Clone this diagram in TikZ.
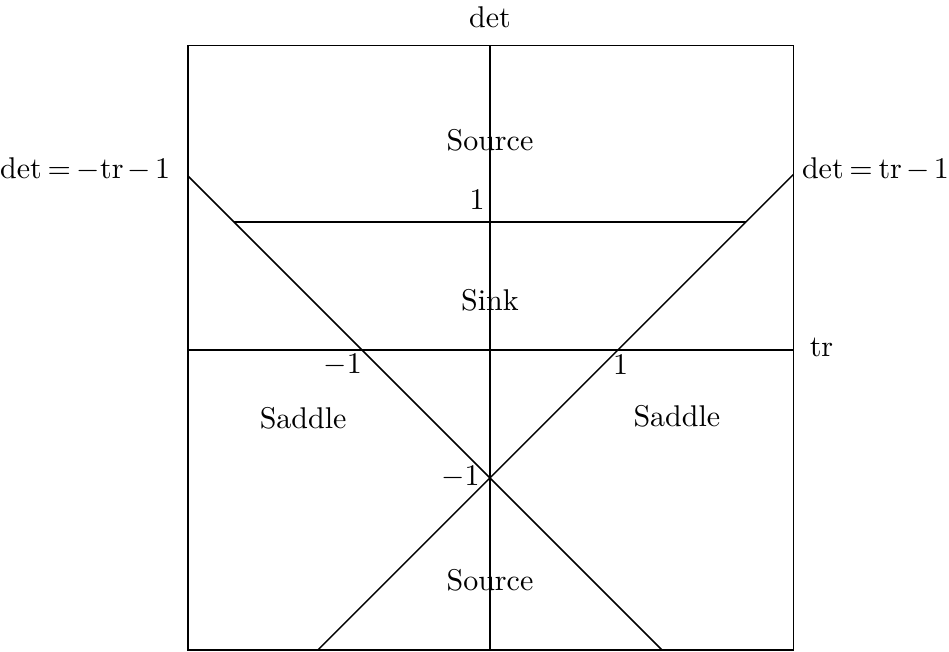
\documentclass[tikz,border=0pt]{standalone}
\usepackage{amsmath}
\usepackage{tikz}
\usetikzlibrary{positioning}
\tikzset{
  frame line/.style={draw=black, line width=0.5pt},
  boundary line/.style={draw=black, line width=0.5pt},
  region label/.style={font=\normalsize, inner sep=1pt},
  tick label/.style={font=\normalsize, inner sep=1pt},
  axis label/.style={font=\normalsize, inner sep=1pt},
  eq label/.style={font=\normalsize, inner sep=1pt,
    execute at begin node={\thickmuskip=3.5mu\medmuskip=2.5mu}}
}

\begin{document}
\begin{tikzpicture}[x=1.5cm, y=1.5cm]
  \useasboundingbox (-3.828,-2.352) rectangle (3.586,2.734);

  % frame and axes
  \draw[frame line] (-2.36,-2.345) rectangle (2.37,2.38);
  \coordinate (trl) at (-2.36,0);
  \coordinate (trr) at (2.37,0);
  \coordinate (detb) at (0,-2.345);
  \coordinate (dett) at (0,2.38);
  \draw[frame line] (trl) -- (trr);
  \draw[frame line] (detb) -- (dett);

  % det = 1
  \coordinate (d1l) at (-2,1);
  \coordinate (d1r) at (2,1);
  \draw[boundary line] (d1l) -- (d1r);

  % det = -tr - 1 and det = tr - 1
  \coordinate (ml) at (-2.36,1.36);
  \coordinate (mb) at (1.345,-2.345);
  \coordinate (pr) at (2.37,1.37);
  \coordinate (pb) at (-1.345,-2.345);
  \coordinate (cross) at (0,-1);
  \draw[boundary line] (ml) -- (cross) -- (mb);
  \draw[boundary line] (pr) -- (cross) -- (pb);

  % labels
  \node[axis label] (detlab) at (0,2.60) {$\mathrm{det}$};
  \node[axis label] (trlab) at (2.59,0.02) {$\mathrm{tr}$};
  \node[eq label, anchor=east] (mlab) at (-2.47,1.41)
    {$\mathrm{det}=-\mathrm{tr}-1$};
  \node[eq label, anchor=west] (plab) at (2.41,1.41)
    {$\mathrm{det}=\mathrm{tr}-1$};

  \node[region label] (srctop) at (0,1.64) {Source};
  \node[region label] (sink) at (0,0.39) {Sink};
  \node[region label] (sadl) at (-1.46,-0.53) {Saddle};
  \node[region label] (sadr) at (1.46,-0.52) {Saddle};
  \node[region label] (srcbot) at (0,-1.80) {Source};

  \node[tick label] (t1) at (-0.10,1.17) {$1$};
  \node[tick label] (tm1) at (-1.15,-0.12) {$-1$};
  \node[tick label] (tp1) at (1.02,-0.12) {$1$};
  \node[tick label] (dm1) at (-0.23,-0.99) {$-1$};
\end{tikzpicture}
\end{document}
